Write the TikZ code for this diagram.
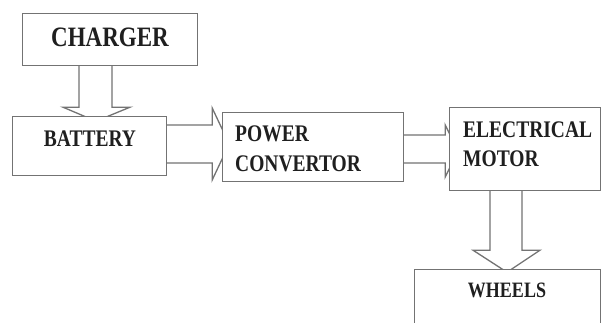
\documentclass[tikz,border=0pt]{standalone}
\usepackage{fontspec}
\setmainfont{Liberation Serif}
\usetikzlibrary{calc}
\tikzset{
  blk/.style={draw=black!55, line width=1.3pt, fill=white, inner sep=0pt},
  conn/.style={draw=black!55, line width=1.3pt, fill=white, line join=miter},
  lbl/.style={text=black!88, inner sep=0pt, anchor=base},
}
\newcommand{\tallt}[2]{\fontsize{#1}{#1}\selectfont\bfseries\scalebox{1}[1.22]{#2}}
\begin{document}
\begin{tikzpicture}[x=1pt,y=-1pt]
\fill[white] (0,0) rectangle (603,323);
\useasboundingbox (0,0) rectangle (603,323);
\clip (0,0) rectangle (603,323);
% box positions (named, empty, drawn later on top)
\coordinate (chgc) at (110,39.5);
\coordinate (batc) at (89.5,146);
\coordinate (powc) at (313,147);
\coordinate (motc) at (525,149);
\coordinate (whlc) at (507.5,302.5);
\path node[minimum width=174pt, minimum height=51pt, inner sep=0pt] (chg) at (chgc) {};
\path node[minimum width=153pt, minimum height=58pt, inner sep=0pt] (bat) at (batc) {};
\path node[minimum width=180pt, minimum height=68pt, inner sep=0pt] (pow) at (powc) {};
\path node[minimum width=150pt, minimum height=82pt, inner sep=0pt] (mot) at (motc) {};
\path node[minimum width=185pt, minimum height=65pt, inner sep=0pt] (whl) at (whlc) {};
% block arrows
\draw[conn] ($(chg.south)+(-31,0)$) -- ++(0,42) -- ++(-16,0) -- ++(33,14) -- ++(34,-14) -- ++(-18,0) -- ++(0,-42);
\draw[conn] ($(bat.east)+(0,-21)$) -- ++(46,0) -- ++(0,-17) -- ++(17,36) -- ++(-17,36) -- ++(0,-17) -- ++(-46,0);
\draw[conn] ($(pow.east)+(0,-12)$) -- ++(42,0) -- ++(0,-10) -- ++(13,26) -- ++(-13,26) -- ++(0,-14) -- ++(-42,0);
\draw[conn] ($(mot.south)+(-35,0)$) -- ++(0,60) -- ++(-17,0) -- ++(34,22) -- ++(33,-22) -- ++(-18,0) -- ++(0,-60);
% boxes
\draw[blk] (chg.north west) rectangle (chg.south east);
\draw[blk] (bat.north west) rectangle (bat.south east);
\draw[blk] (pow.north west) rectangle (pow.south east);
\draw[blk] (mot.north west) rectangle (mot.south east);
\draw[blk] (whl.north west) rectangle (whl.south east);
% labels
\node[lbl] (tchg) at (110,47) {\tallt{23}{CHARGER}};
\node[lbl] (tbat) at (90,147) {\tallt{19.5}{BATTERY}};
\node[lbl, anchor=base west] (tpow1) at (235,142) {\tallt{19.5}{POWER}};
\node[lbl, anchor=base west] (tpow2) at (235,172) {\tallt{19.5}{CONVERTOR}};
\node[lbl, anchor=base west] (tmot1) at (463,138) {\tallt{19.5}{ELECTRICAL}};
\node[lbl, anchor=base west] (tmot2) at (463,167) {\tallt{19.5}{MOTOR}};
\node[lbl] (twhl) at (507,298) {\tallt{18}{WHEELS}};
\end{tikzpicture}
\end{document}
